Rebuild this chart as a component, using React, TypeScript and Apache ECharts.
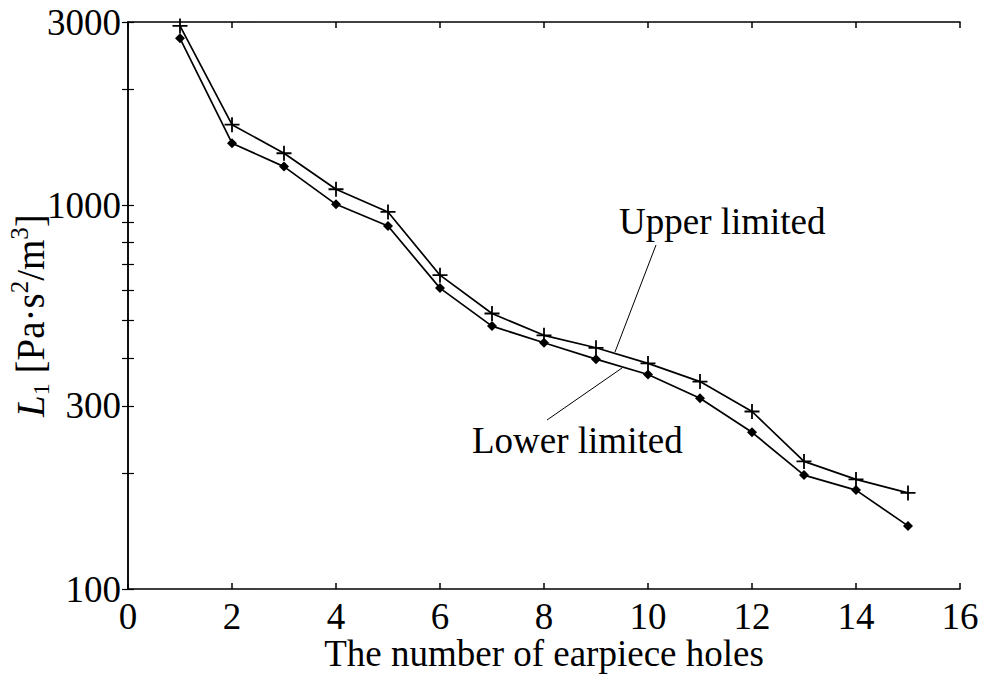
import React, { useEffect, useRef } from "react";
import * as echarts from "echarts";

const holes = [1, 2, 3, 4, 5, 6, 7, 8, 9, 10, 11, 12, 13, 14, 15];
const upperLimited = [2930, 1620, 1365, 1100, 960, 657, 522, 458, 425, 387, 347, 290, 215, 193, 178];
const lowerLimited = [2720, 1450, 1260, 1005, 882, 608, 484, 438, 397, 362, 314, 256, 198, 181, 146];
const yLabelValues = [100, 300, 1000, 3000];
const yTickValues = [100, 200, 300, 400, 500, 600, 700, 800, 900, 1000, 2000, 3000];

const FONT = "Liberation Serif";
const FS = 37;
const PLUS = "path://M4.4,0 H5.6 V4.4 H10 V5.6 H5.6 V10 H4.4 V5.6 H0 V4.4 H4.4 Z";

export default function App() {
  const ref = useRef<HTMLDivElement>(null);
  useEffect(() => {
    document.body.style.margin = "0";
    const chart = echarts.init(ref.current!, null, { renderer: "svg" });
    const axisLine = { show: true, lineStyle: { color: "#000", width: 1.5 } };
    const xBase = {
      type: "value" as const,
      min: 0,
      max: 16,
      interval: 2,
      splitLine: { show: false },
      axisLine,
      axisTick: { inside: true, length: 6, lineStyle: { color: "#000", width: 1.5 } },
    };
    const yBase = {
      type: "log" as const,
      logBase: 10,
      min: 100,
      max: 3000,
      splitLine: { show: false },
      axisLine,
      axisTick: {
        inside: true,
        length: 6,
        customValues: yTickValues,
        lineStyle: { color: "#000", width: 1.2 },
      },
    };
    chart.setOption({
      animation: false,
      backgroundColor: "#fff",
      grid: { left: 128, right: 24, top: 22, bottom: 85, containLabel: false, outerBoundsMode: "none" },
      xAxis: [
        {
          ...xBase,
          position: "bottom",
          axisLabel: { color: "#000", fontFamily: FONT, fontSize: FS, margin: 9 },
          name: "The number of earpiece holes",
          nameLocation: "middle",
          nameGap: 46,
          nameMoveOverlap: false,
          nameTextStyle: { color: "#000", fontFamily: FONT, fontSize: FS },
        },
        { ...xBase, position: "top", axisLabel: { show: false } },
      ],
      yAxis: [
        {
          ...yBase,
          position: "left",
          axisLabel: {
            color: "#000",
            fontFamily: FONT,
            fontSize: FS,
            margin: 7,
            customValues: yLabelValues,
            formatter: (v: number) => String(Math.round(v)),
          },
          name: "{i|L}{sub|1}{n| [Pa·s}{sup|2}{n|/m}{sup|3}{n|]}",
          nameLocation: "middle",
          nameRotate: 90,
          nameGap: 75,
          nameMoveOverlap: false,
          nameTextStyle: {
            padding: [0, 20, 0, 0],
            rich: {
              i: { fontFamily: FONT, fontSize: 39, fontStyle: "italic", color: "#000", lineHeight: 46, verticalAlign: "middle" },
              n: { fontFamily: FONT, fontSize: 39, color: "#000", lineHeight: 46, verticalAlign: "middle" },
              sup: { fontFamily: FONT, fontSize: 25, color: "#000", lineHeight: 16, verticalAlign: "top" },
              sub: { fontFamily: FONT, fontSize: 24, color: "#000", lineHeight: 28, verticalAlign: "bottom" },
            },
          },
        },
        { ...yBase, position: "right", axisLabel: { show: false } },
      ],
      series: [
        {
          name: "Upper limited",
          type: "line",
          data: holes.map((h, i) => [h, upperLimited[i]]),
          symbol: PLUS,
          symbolSize: 15,
          lineStyle: { color: "#000", width: 1.7 },
          itemStyle: { color: "#000" },
          z: 3,
        },
        {
          name: "Lower limited",
          type: "line",
          data: holes.map((h, i) => [h, lowerLimited[i]]),
          symbol: "diamond",
          symbolSize: 10,
          lineStyle: { color: "#000", width: 1.7 },
          itemStyle: { color: "#000" },
          z: 3,
        },
      ],
      graphic: [
        {
          type: "text",
          left: 619,
          top: 203,
          style: { text: "Upper limited", fontFamily: FONT, fontSize: FS, fill: "#000" },
        },
        {
          type: "text",
          left: 472,
          top: 422,
          style: { text: "Lower limited", fontFamily: FONT, fontSize: FS, fill: "#000" },
        },
        {
          type: "line",
          shape: { x1: 656, y1: 245, x2: 615, y2: 352 },
          style: { stroke: "#000", lineWidth: 1 },
        },
        {
          type: "line",
          shape: { x1: 622, y1: 368, x2: 547, y2: 420 },
          style: { stroke: "#000", lineWidth: 1 },
        },
      ],
    });
    return () => chart.dispose();
  }, []);
  return <div ref={ref} style={{ position: "fixed", left: 0, top: 0, width: 984, height: 674 }} />;
}
